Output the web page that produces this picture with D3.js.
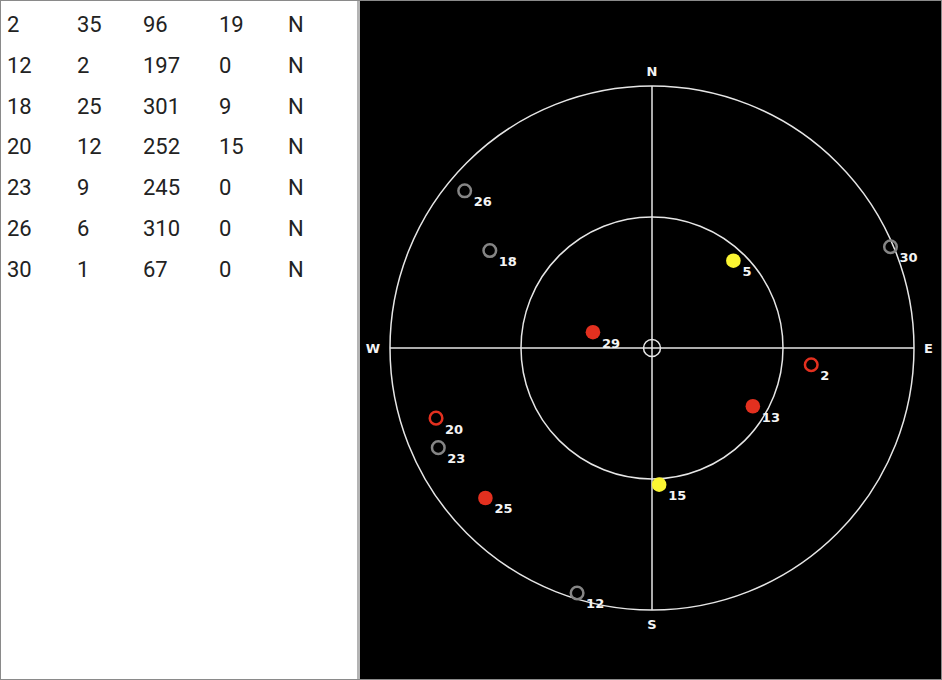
<!DOCTYPE html>
<html>
<head>
<meta charset="utf-8">
<script src="https://cdn.jsdelivr.net/npm/d3@7"></script>
<style>
  html, body { margin: 0; padding: 0; background: #fff; }
  svg { display: block; }
</style>
</head>
<body>
<svg id="chart" width="942" height="680"></svg>
<script>
// ---- data ----
const prn       = [2, 5, 12, 13, 15, 18, 20, 23, 25, 26, 29, 30];
const elevation = [35, 49, 2, 50, 43, 25, 12, 9, 13, 6, 69, 1];
const azimuth   = [96, 43, 197, 120, 177, 301, 252, 245, 228, 310, 285, 67];
const snr       = [19, 38, 0, 24, 35, 9, 15, 0, 22, 0, 26, 0];
const used      = ["N", "Y", "N", "Y", "Y", "N", "N", "N", "Y", "N", "Y", "N"];
const elevationRings = [0, 45];
const compassLabels = ["N", "E", "S", "W"];
const compassAngles = [0, 90, 180, 270];

const sats = prn.map((p, i) => ({prn: p, el: elevation[i], az: azimuth[i], snr: snr[i], used: used[i]}));
const tableRows = sats.filter(d => d.used === "N");

const svg = d3.select("#chart");
const W = 942, H = 680;

// ---- panels ----
svg.append("rect").attr("x", 0).attr("y", 0).attr("width", W).attr("height", H).attr("fill", "#fff");
svg.append("rect").attr("x", 360).attr("y", 0).attr("width", W - 360).attr("height", H).attr("fill", "#000");
svg.append("rect").attr("x", 357).attr("y", 0).attr("width", 3).attr("height", H).attr("fill", "#b4b4b4");
svg.append("rect").attr("x", 0.5).attr("y", 0.5).attr("width", W - 1).attr("height", H - 1)
  .attr("fill", "none").attr("stroke", "#8a8a8a").attr("stroke-width", 1);

// ---- table ----
const colPos = {prn: 7, el: 77, az: 143, snr: 219, used: 288};
const rowY = d3.scaleLinear().domain([0, 1]).range([32, 72.8]);
const table = svg.append("g").attr("font-family", "Roboto, sans-serif").attr("font-size", 22).attr("fill", "#222");
tableRows.forEach((d, i) => {
  const cells = [["prn", d.prn], ["el", d.el], ["az", d.az], ["snr", d.snr], ["used", d.used]];
  cells.forEach(([k, v]) => {
    table.append("text").attr("x", colPos[k]).attr("y", rowY(i)).text(v);
  });
});

// ---- sky plot ----
const cx = 652, cy = 348, R = 262;
const rScale = d3.scaleLinear().domain([90, 0]).range([0, R]);
const g = svg.append("g").attr("transform", `translate(${cx},${cy})`);
const toXY = (el, az) => {
  const r = rScale(el), a = az * Math.PI / 180;
  return [r * Math.sin(a), -r * Math.cos(a)];
};

g.selectAll("circle.ring").data(elevationRings).join("circle")
  .attr("class", "ring").attr("r", d => rScale(d))
  .attr("fill", "none").attr("stroke", "#e6e6e6").attr("stroke-width", 1.5);

g.append("line").attr("x1", 0).attr("x2", 0).attr("y1", -R).attr("y2", R)
  .attr("stroke", "#e6e6e6").attr("stroke-width", 1.5);
g.append("line").attr("x1", -R).attr("x2", R).attr("y1", 0).attr("y2", 0)
  .attr("stroke", "#e6e6e6").attr("stroke-width", 1.5);
g.append("circle").attr("r", 8.5).attr("fill", "none").attr("stroke", "#e6e6e6").attr("stroke-width", 1.5);

// compass labels
const labelR = {N: R + 10, S: R + 19, E: R + 10, W: R + 10};
compassLabels.forEach((lab, i) => {
  const a = compassAngles[i] * Math.PI / 180;
  const rr = labelR[lab];
  let x = rr * Math.sin(a), y = -rr * Math.cos(a);
  let anchor = "middle";
  if (lab === "E") { anchor = "start"; y += 5; }
  if (lab === "W") { anchor = "end"; y += 5; }
  g.append("text").attr("x", x).attr("y", y).attr("text-anchor", anchor)
    .attr("font-family", "DejaVu Sans, sans-serif").attr("font-weight", "bold")
    .attr("font-size", 13).attr("fill", "#f4f4f4").text(lab);
});

// satellites
const color = d3.scaleThreshold().domain([10, 30]).range(["#858585", "#e3301f", "#fbf532"]);
const satG = g.selectAll("g.sat").data(sats).join("g").attr("class", "sat")
  .attr("transform", d => { const [x, y] = toXY(d.el, d.az); return `translate(${x},${y})`; });

satG.append("circle")
  .attr("r", d => d.used === "Y" ? 7.3 : 6.3)
  .attr("fill", d => d.used === "Y" ? color(d.snr) : "none")
  .attr("stroke", d => d.used === "Y" ? "none" : color(d.snr))
  .attr("stroke-width", 2.5);

satG.append("text").attr("x", 9).attr("y", 15.5)
  .attr("font-family", "DejaVu Sans, sans-serif").attr("font-weight", "bold")
  .attr("font-size", 13).attr("fill", "#f4f4f4").text(d => d.prn);
</script>
</body>
</html>
